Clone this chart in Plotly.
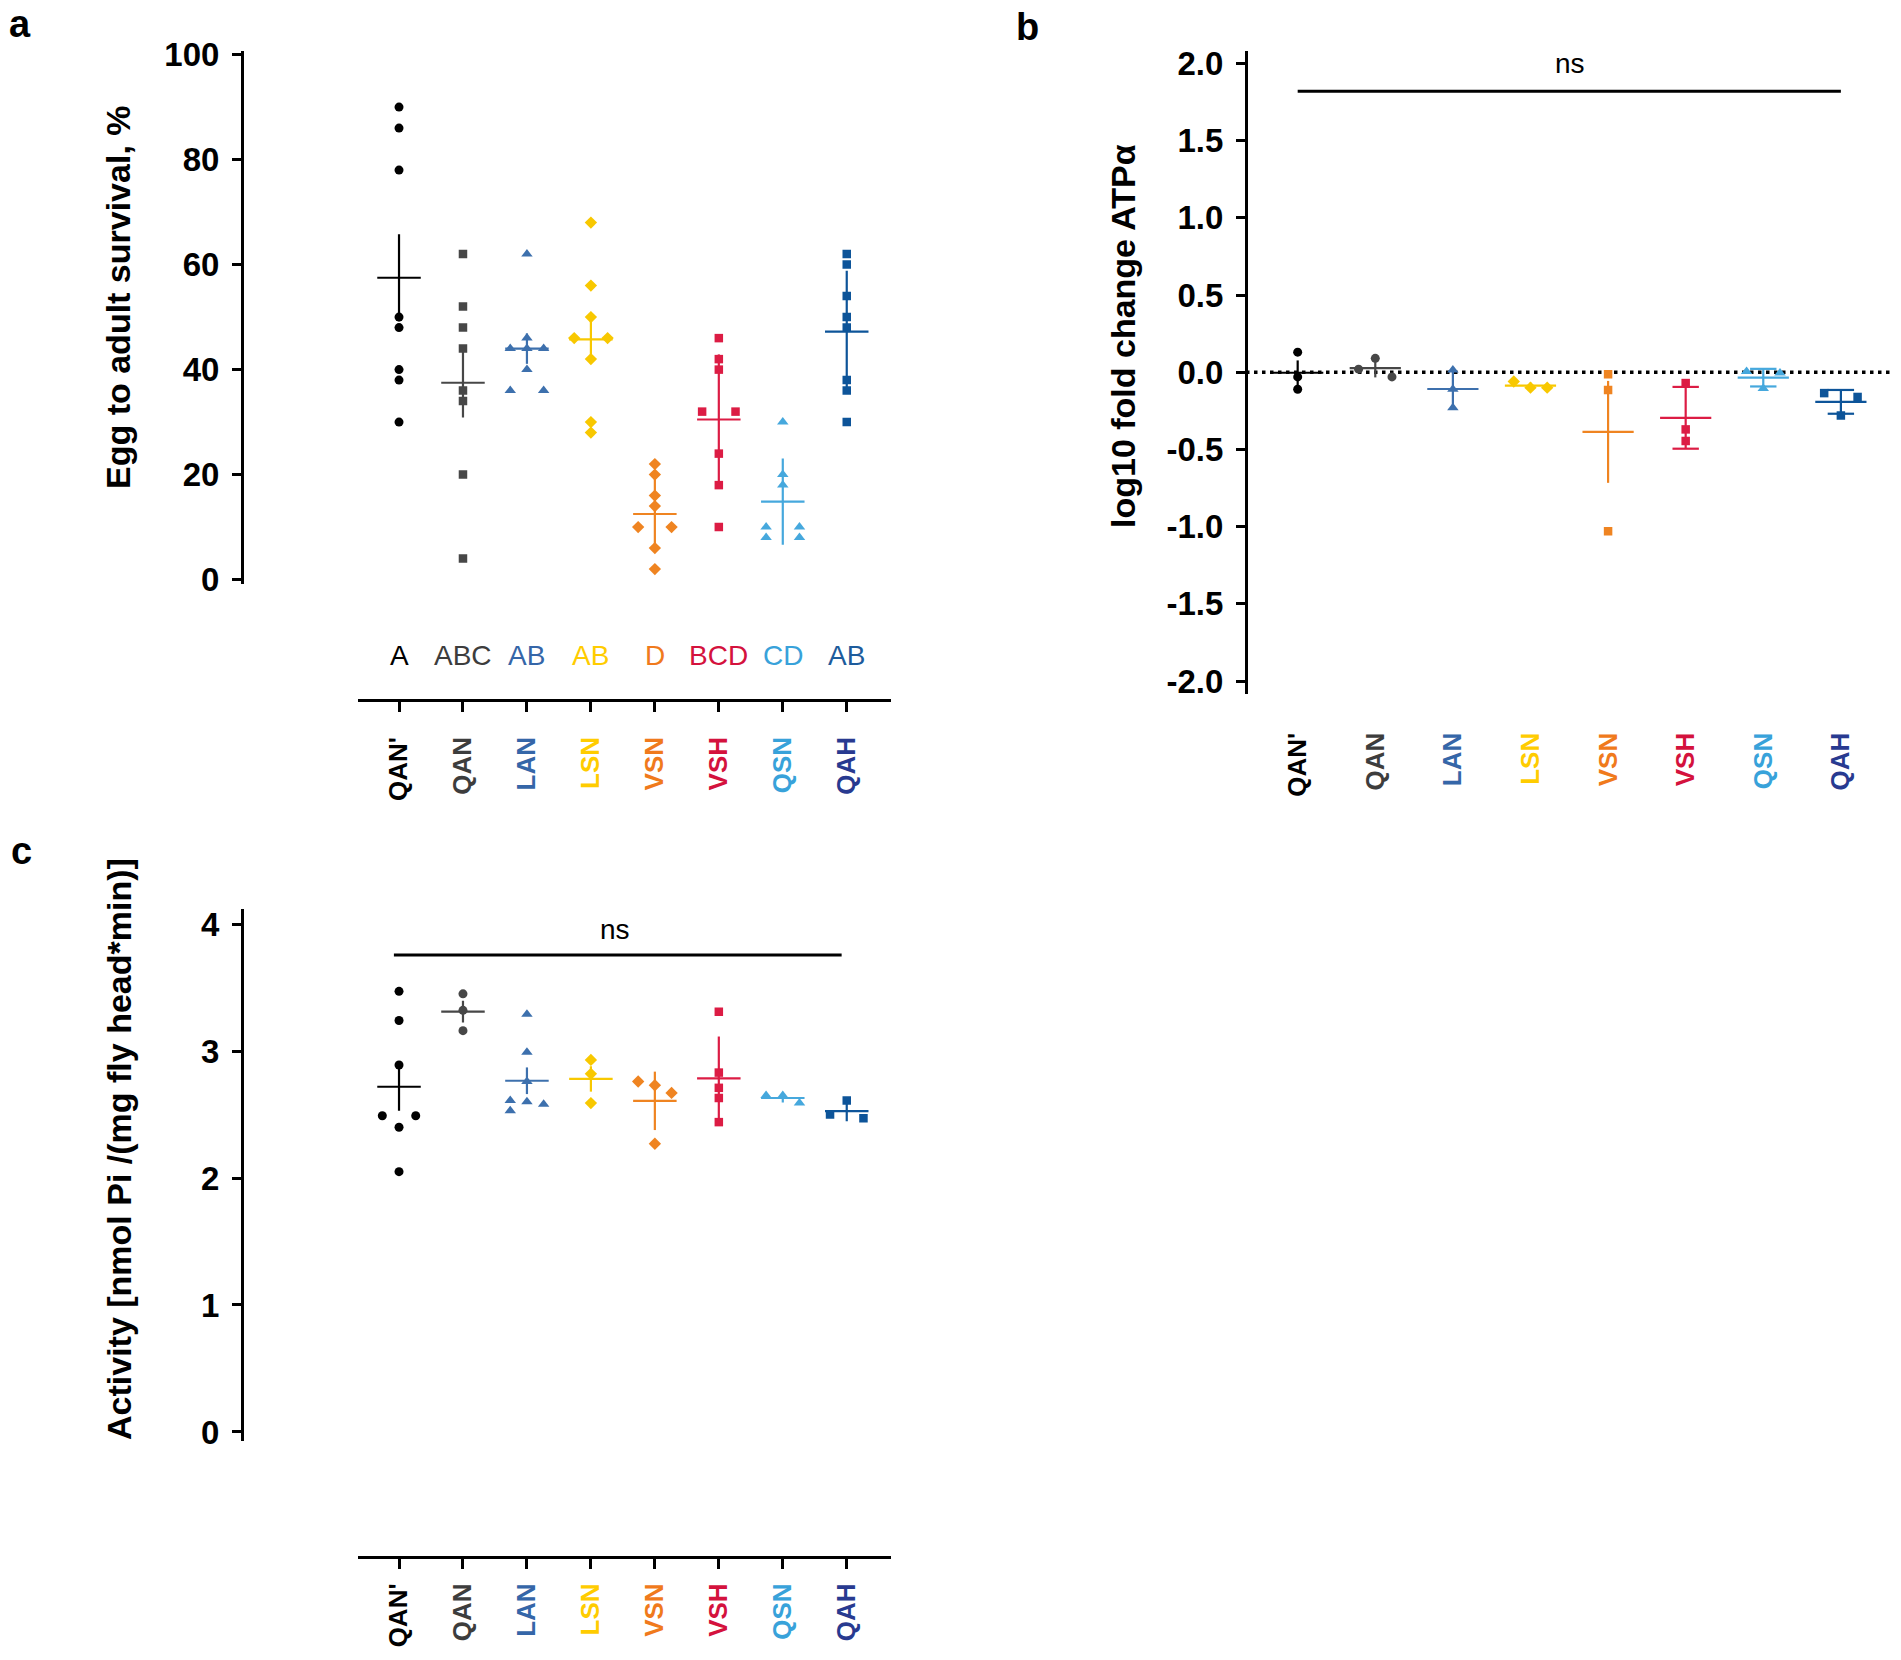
import plotly.graph_objects as go

W, H = 1901, 1660
FONT = "Liberation Sans, Arial, Helvetica, sans-serif"

# ---------------- data ----------------
strains = ["QAN'", "QAN", "LAN", "LSN", "VSN", "VSH", "QSN", "QAH"]
label_colors = ["#000000", "#3d3d3d", "#3566a8", "#ffcc00", "#f07a1c", "#d4123d", "#38a2da", "#283a90"]
marker_colors = ["#000000", "#474747", "#3d70ad", "#f8c800", "#ef8421", "#dc1c44", "#46a8dd", "#0d5499"]
letter_groups = ["A", "ABC", "AB", "AB", "D", "BCD", "CD", "AB"]
letter_colors = ["#000000", "#3d3d3d", "#3566a8", "#ffcc00", "#f07a1c", "#d4123d", "#38a2da", "#1d5c9c"]

survival = [
    [90, 86, 78, 50, 48, 40, 38, 30],
    [62, 52, 48, 44, 36, 34, 20, 4],
    [62, 46, 44, 44, 44, 40, 36, 36],
    [68, 56, 50, 46, 46, 42, 30, 28],
    [22, 20, 16, 14, 10, 10, 6, 2],
    [46, 42, 40, 32, 32, 24, 18, 10],
    [30, 20, 18, 10, 10, 8, 8],
    [62, 60, 54, 50, 48, 38, 36, 30],
]
survival_err = [8.3, 6.6, 2.9, 4.6, 6.8, 12.4, 8.2, 11.6]
survival_ticks = [0, 20, 40, 60, 80, 100]

fold_change = [
    [0.13, -0.03, -0.11],
    [0.09, 0.02, -0.03],
    [0.015, -0.11, -0.23],
    [-0.06, -0.10, -0.10],
    [-0.013, -0.115, -1.03],
    [-0.07, -0.37, -0.445],
    [0.005, -0.005, -0.105],
    [-0.135, -0.16, -0.28],
]
fold_err = [0.08, 0.06, 0.12, 0.02, 0.33, 0.20, 0.057, 0.077]
fold_tickvals = [2.0, 1.5, 1.0, 0.5, 0.0, -0.5, -1.0, -1.5, -2.0]
fold_ticktext = ["2.0", "1.5", "1.0", "0.5", "0.0", "-0.5", "-1.0", "-1.5", "-2.0"]

activity = [
    [3.47, 3.24, 2.89, 2.49, 2.49, 2.40, 2.05],
    [3.45, 3.32, 3.16],
    [3.29, 2.99, 2.76, 2.61, 2.60, 2.58, 2.53],
    [2.93, 2.82, 2.59],
    [2.76, 2.73, 2.67, 2.27],
    [3.31, 2.83, 2.71, 2.63, 2.44],
    [2.65, 2.65, 2.59],
    [2.61, 2.50, 2.47],
]
activity_err = [0.19, 0.085, 0.105, 0.10, 0.23, 0.33, 0.035, 0.08]
activity_ticks = [0, 1, 2, 3, 4]

# ---------------- styling / geometry ----------------
sym_a = ["circle", "square", "triangle-up", "diamond", "diamond", "square", "triangle-up", "square"]
sym_b = ["circle", "circle", "triangle-up", "diamond", "square", "square", "triangle-up", "square"]
sym_c = ["circle", "circle", "triangle-up", "diamond", "diamond", "square", "triangle-up", "square"]
caps_b = [False, False, False, False, False, True, True, True]
SYM_SIZE = {"circle": 9, "square": 8.5, "triangle-up": 10, "diamond": 9.5}

def px_x(p):
    return p / W

def px_y(p):
    return 1 - p / H

# panel geometry in pixels
A_X = (357.7, 891.2); A_XR = [-0.646, 7.695]
A_Y = (51.0, 584.4);  A_YR = [-0.91, 100.69]
B_X = (1246.0, 1890.0); B_XR = [-0.666, 7.633]
B_Y = (51.0, 693.5);  B_YR = [-2.08, 2.08]
C_X = A_X; C_XR = A_XR
C_Y = (909.4, 1440.5); C_YR = [-0.067, 4.115]


def spread(values, ppu, thresh=8.0):
    order = sorted(range(len(values)), key=lambda i: -values[i])
    offs = [0] * len(values)
    clusters, cur = [], [order[0]]
    for i in order[1:]:
        if abs(values[cur[-1]] - values[i]) * ppu < thresh:
            cur.append(i)
        else:
            clusters.append(cur)
            cur = [i]
    clusters.append(cur)
    for c in clusters:
        if len(c) == 1:
            slots = [0]
        elif len(c) == 2:
            slots = [-1, 1]
        else:
            slots = [(-1, 0, 1)[k % 3] for k in range(len(c))]
        for i, s in zip(c, slots):
            offs[i] = s
    return offs


fig = go.Figure()


def add_panel(data, errs, symbols, xa, ya, xg, xr, yg, yr, half_w, caps=None, cap_w=0.0):
    ppu_x = (xg[1] - xg[0]) / (xr[1] - xr[0])
    ppu_y = (yg[1] - yg[0]) / (yr[1] - yr[0])
    slot = 16.7 / ppu_x
    for g, vals in enumerate(data):
        m = sum(vals) / len(vals)
        e = errs[g]
        lx = [g - half_w, g + half_w, None, g, g]
        ly = [m, m, None, m - e, m + e]
        if caps is not None and caps[g]:
            lx += [None, g - cap_w, g + cap_w, None, g - cap_w, g + cap_w]
            ly += [None, m + e, m + e, None, m - e, m - e]
        fig.add_trace(go.Scatter(x=lx, y=ly, mode="lines", xaxis=xa, yaxis=ya,
                                 line=dict(color=marker_colors[g], width=2.2),
                                 showlegend=False, hoverinfo="skip"))
        offs = spread(vals, ppu_y)
        fig.add_trace(go.Scatter(x=[g + o * slot for o in offs], y=vals, mode="markers",
                                 xaxis=xa, yaxis=ya,
                                 marker=dict(symbol=symbols[g], size=SYM_SIZE[symbols[g]],
                                             color=marker_colors[g], line=dict(width=0)),
                                 showlegend=False))


add_panel(survival, survival_err, sym_a, "x", "y", A_X, A_XR, A_Y, A_YR, 0.34)
add_panel(fold_change, fold_err, sym_b, "x2", "y2", B_X, B_XR, B_Y, B_YR, 0.33, caps_b, 0.17)
add_panel(activity, activity_err, sym_c, "x3", "y3", C_X, C_XR, C_Y, C_YR, 0.34)

ticktext_x = [f'<span style="color:{c}">{s}</span>' for s, c in zip(strains, label_colors)]
tickfont_y = dict(family=FONT, size=33, color="black", weight="bold")
tickfont_x = dict(family=FONT, size=26, color="black", weight="bold")

common_y = dict(anchor="free", showline=True, linewidth=3, linecolor="black", ticks="outside",
                ticklen=9, tickwidth=3, tickcolor="black", showgrid=False, zeroline=False,
                tickfont=tickfont_y, ticklabelstandoff=6, fixedrange=True, automargin=False)
common_x = dict(anchor="free", showgrid=False, zeroline=False, tickvals=list(range(8)),
                ticktext=ticktext_x, tickangle=-90, tickfont=tickfont_x, fixedrange=True,
                automargin=False)

fig.update_layout(
    template="none",
    width=W, height=H, margin=dict(l=0, r=0, t=0, b=0, pad=0, autoexpand=False),
    paper_bgcolor="white", plot_bgcolor="white", showlegend=False,
    font=dict(family=FONT, color="black"),
    xaxis=dict(domain=[px_x(A_X[0]), px_x(A_X[1])], range=A_XR, position=px_y(699.6),
               showline=True, linewidth=3, linecolor="black", ticks="outside", ticklen=10,
               tickwidth=3, tickcolor="black", ticklabelstandoff=15, **common_x),
    yaxis=dict(domain=[px_y(A_Y[1]), px_y(A_Y[0])], range=A_YR, position=px_x(242),
               tickvals=survival_ticks, **common_y),
    xaxis2=dict(domain=[px_x(B_X[0]), px_x(B_X[1])], range=B_XR, position=px_y(699.6),
                showline=False, ticks="", ticklabelstandoff=27, **common_x),
    yaxis2=dict(domain=[px_y(B_Y[1]), px_y(B_Y[0])], range=B_YR, position=px_x(1246),
                tickvals=fold_tickvals, ticktext=fold_ticktext, **common_y),
    xaxis3=dict(domain=[px_x(C_X[0]), px_x(C_X[1])], range=C_XR, position=px_y(1557),
                showline=True, linewidth=3, linecolor="black", ticks="outside", ticklen=10,
                tickwidth=3, tickcolor="black", ticklabelstandoff=4, **common_x),
    yaxis3=dict(domain=[px_y(C_Y[1]), px_y(C_Y[0])], range=C_YR, position=px_x(242),
                tickvals=activity_ticks, **common_y),
)

# reference lines
fig.add_shape(type="line", xref="x2 domain", yref="y2", x0=0, x1=1, y0=0, y1=0,
              line=dict(color="black", width=3.5, dash="3.5px,4.5px"), layer="below")
fig.add_shape(type="line", xref="x2", yref="y2", x0=0, x1=7, y0=1.82, y1=1.82,
              line=dict(color="black", width=3))
fig.add_shape(type="line", xref="x3", yref="y3", x0=-0.08, x1=6.92, y0=3.756, y1=3.756,
              line=dict(color="black", width=3))

ann = []
for g, (t, c) in enumerate(zip(letter_groups, letter_colors)):
    ann.append(dict(x=g, y=px_y(655), xref="x", yref="paper", text=t, showarrow=False,
                    font=dict(family=FONT, size=28, color=c), xanchor="center", yanchor="middle"))
ann.append(dict(x=3.51, y=2.0, xref="x2", yref="y2", text="ns", showarrow=False,
                font=dict(family=FONT, size=28, color="black"), yanchor="middle"))
ann.append(dict(x=3.37, y=3.96, xref="x3", yref="y3", text="ns", showarrow=False,
                font=dict(family=FONT, size=28, color="black"), yanchor="middle"))
title_font = dict(family=FONT, size=34, color="black", weight="bold")
ann.append(dict(x=px_x(118), y=px_y(297), xref="paper", yref="paper", text="Egg to adult survival, %",
                textangle=-90, showarrow=False, font=title_font, xanchor="center", yanchor="middle"))
ann.append(dict(x=px_x(1123), y=px_y(336), xref="paper", yref="paper", text="log10 fold change ATPα",
                textangle=-90, showarrow=False, font=title_font, xanchor="center", yanchor="middle"))
ann.append(dict(x=px_x(119), y=px_y(1149), xref="paper", yref="paper",
                text="Activity [nmol Pi /(mg fly head*min)]",
                textangle=-90, showarrow=False, font=title_font, xanchor="center", yanchor="middle"))
panel_font = dict(family=FONT, size=38, color="black", weight="bold")
for t, x, y in [("a", 20, 24), ("b", 1027, 27), ("c", 21, 851)]:
    ann.append(dict(x=px_x(x), y=px_y(y), xref="paper", yref="paper", text=t, showarrow=False,
                    font=panel_font, xanchor="center", yanchor="middle"))
fig.update_layout(annotations=ann)

fig.write_html("out.html", config={"displayModeBar": False},
               post_script="document.body.style.margin='0px';document.body.style.overflow='hidden';")
